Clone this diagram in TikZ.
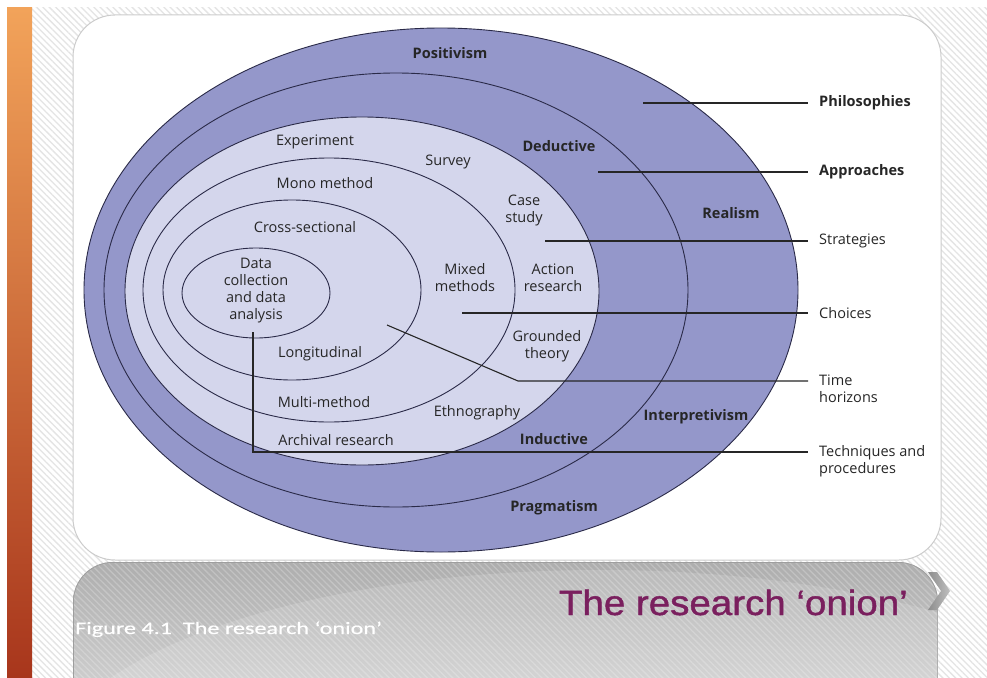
\documentclass[tikz,border=0pt]{standalone}
\usepackage{fontspec}
\setmainfont{Open Sans}
\newfontfamily\titlefont[FakeStretch=1.1, FakeBold=1.2]{Liberation Sans}
\newfontfamily\capfont[FakeStretch=1.38, FakeBold=0.6]{Carlito}
\usetikzlibrary{patterns.meta}

\definecolor{ringblue}{HTML}{9497CA}
\definecolor{corefill}{HTML}{D4D6EC}
\definecolor{ringline}{HTML}{2A2A48}
\definecolor{inkgrey}{HTML}{262626}
\definecolor{plum}{HTML}{7A1F5E}
\definecolor{stripe}{HTML}{E4E4E4}
\definecolor{barTop}{HTML}{F2A35A}
\definecolor{barMid}{HTML}{F6801C}
\definecolor{barBot}{HTML}{A8361C}

\begin{document}
\begin{tikzpicture}[
        x=1pt, y=-1pt,
        ring/.style={draw=ringline, line width=0.9pt},
        txt/.style={font=\fontsize{14.5}{17}\selectfont, text=inkgrey, align=center, inner sep=0pt},
        ringname/.style={txt, font=\fontsize{14.5}{17}\selectfont\bfseries},
        lbl/.style={txt, anchor=west, align=left, inner xsep=11pt},
        leader/.style={draw=inkgrey, line width=1.1pt}
    ]
    \useasboundingbox (0,0) rectangle (987,677);

    % Slide background
    \fill[white] (0,0) rectangle (987,677);
    \fill[pattern={Lines[angle=-45, distance=4.5pt, line width=1.3pt]}, pattern color=stripe] (32,8) rectangle (987,677);
    \shade[top color=barTop, middle color=barMid, bottom color=barBot] (7,8) rectangle (32,677);
    \fill[white, draw=black!20, line width=1pt, rounded corners=42pt] (73,15) rectangle (941,560);

    % Caption panel
    \begin{scope}
        \clip[rounded corners=40pt] (73,562) rectangle (938,720);
        \shade[top color=black!32, bottom color=black!20] (73,562) rectangle (938,677);
        \fill[white, opacity=0.14] (600,780) ellipse [x radius=560, y radius=210];
        \fill[pattern={Lines[angle=-45, distance=4.5pt, line width=1.3pt]}, pattern color=white, opacity=0.22] (73,562) rectangle (938,677);
        \draw[black!38, line width=1.5pt, rounded corners=40pt] (73,562) rectangle (938,720);
    \end{scope}
    \shade[left color=black!45, right color=black!25] (928,572) -- (937,572) -- (950,591) -- (937,610) -- (928,610) -- (941,591) -- cycle;

    % Onion layers
    \draw[ring, fill=ringblue] (441,290) ellipse [x radius=357, y radius=262];
    \draw[ring, fill=ringblue] (396,290) ellipse [x radius=292, y radius=217];
    \draw[ring, fill=corefill] (362,291) ellipse [x radius=237, y radius=174];
    \draw[ring] (329,290) ellipse [x radius=186, y radius=132];
    \draw[ring] (292,290) ellipse [x radius=129, y radius=90];
    \draw[ring] (256,293) ellipse [x radius=74, y radius=45];

    % Layer names
    \node[lbl] (philosophies) at (808,103) {\bfseries Philosophies};
    \node[lbl] (approaches) at (808,172) {\bfseries Approaches};
    \node[lbl] (strategies) at (808,241) {Strategies};
    \node[lbl] (choices) at (808,313) {Choices};
    \node[lbl] (timehorizons) at (808,389) {Time\\horizons};
    \node[lbl] (techniques) at (808,461) {Techniques and\\procedures};

    % Leader lines
    \coordinate (phil-start) at (643,103);
    \coordinate (appr-start) at (598,172);
    \coordinate (strat-start) at (545,241);
    \coordinate (choice-start) at (462,313);
    \coordinate (time-start) at (387,325);
    \coordinate (time-bend) at (518,381);
    \coordinate (tech-start) at (253,332);
    \coordinate (tech-corner) at (253,452);

    \draw[leader] (phil-start) -- (philosophies);
    \draw[leader] (appr-start) -- (approaches);
    \draw[leader] (strat-start) -- (strategies);
    \draw[leader] (choice-start) -- (choices);
    \draw[leader] (time-start) -- (time-bend) -- (time-bend -| timehorizons.west);
    \draw[leader] (tech-start) -- (tech-corner) -- (tech-corner -| techniques.west);

    % Philosophies and approaches
    \node[ringname] (positivism) at (450,53) {Positivism};
    \node[ringname] (deductive) at (559,146) {Deductive};
    \node[ringname] (realism) at (731,213) {Realism};
    \node[ringname] (interpretivism) at (696,417) {Interpretivism};
    \node[ringname] (inductive) at (554,439) {Inductive};
    \node[ringname] (pragmatism) at (554,508) {Pragmatism};

    % Strategies
    \node[txt] (experiment) at (315,142) {Experiment};
    \node[txt] (survey) at (448,162) {Survey};
    \node[txt] (casestudy) at (524,210) {Case\\study};
    \node[txt] (action) at (553,278) {Action\\research};
    \node[txt] (grounded) at (547,346) {Grounded\\theory};
    \node[txt] (ethnography) at (477,413) {Ethnography};
    \node[txt] (archival) at (336,440) {Archival research};

    % Choices
    \node[txt] (mono) at (325,183) {Mono method};
    \node[txt] (mixed) at (465,278) {Mixed\\methods};
    \node[txt] (multi) at (324,402) {Multi-method};

    % Time horizons
    \node[txt] (cross) at (305,227) {Cross-sectional};
    \node[txt] (longitudinal) at (320,354) {Longitudinal};

    % Core
    \node[txt] (datacore) at (256,291) {Data\\collection\\and data\\analysis};

    % Slide titles
    \node[anchor=base east, inner sep=0pt, text=plum, font=\titlefont\fontsize{35}{40}\selectfont] (title) at (908,615) {The research ‘onion’};
    \node[anchor=base west, inner sep=0pt, text=white, font=\capfont\fontsize{17.5}{20}\selectfont] (caption) at (75,634) {Figure 4.1~~The research ‘onion’};

\end{tikzpicture}
\end{document}
